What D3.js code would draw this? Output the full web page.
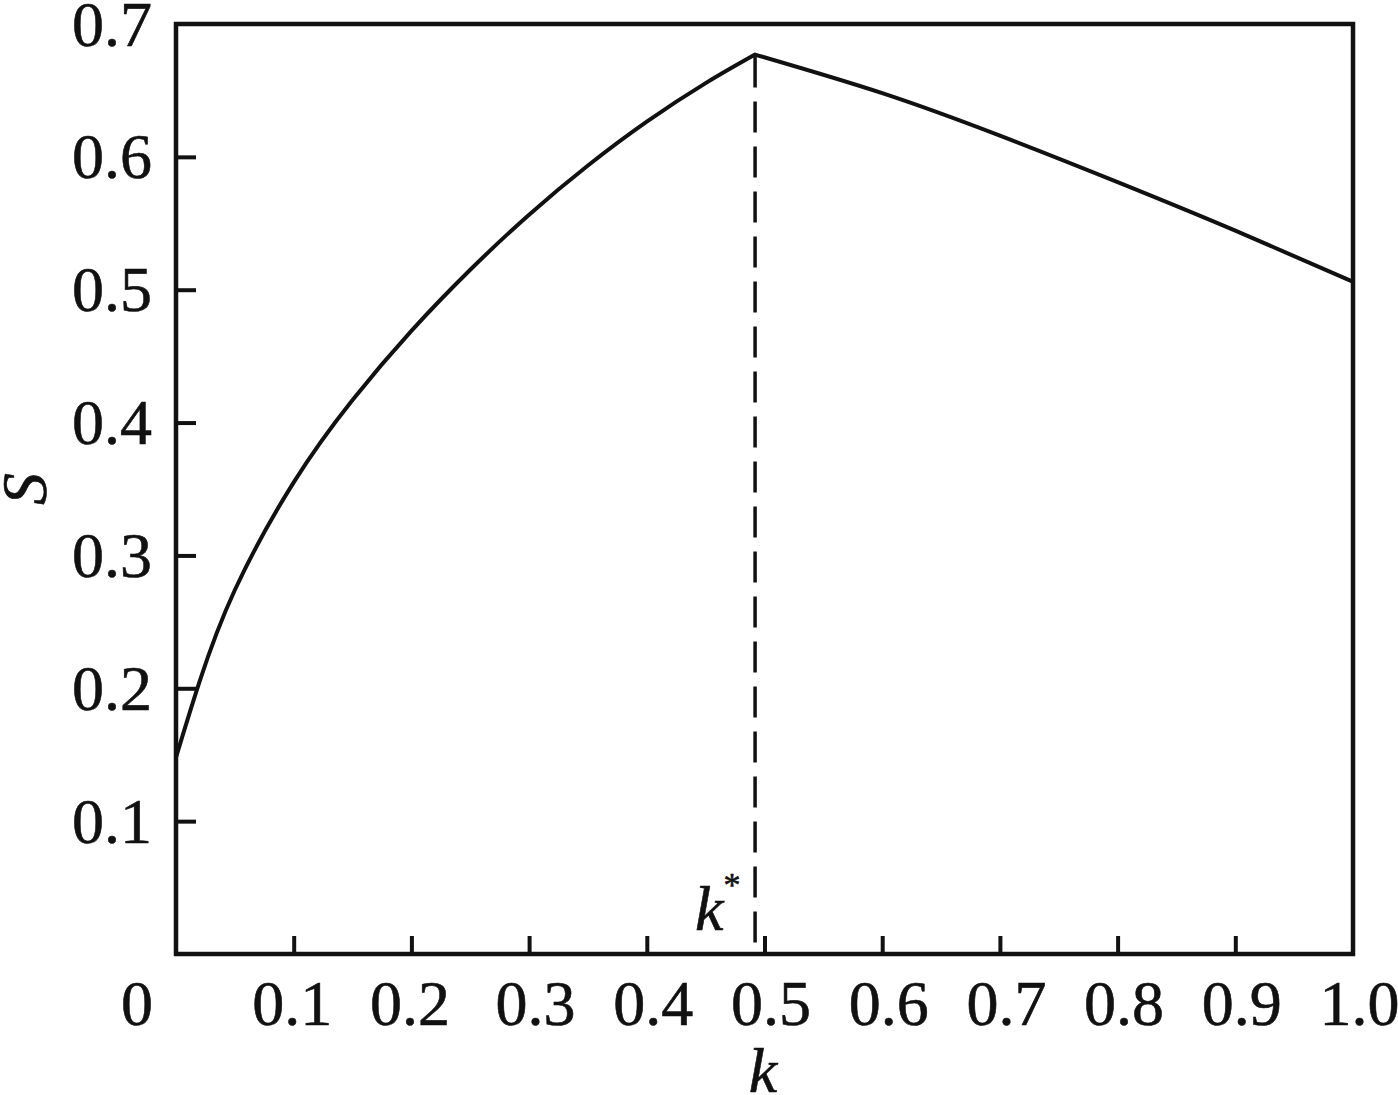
<!DOCTYPE html>
<html>
<head>
<meta charset="utf-8">
<script src="https://cdn.jsdelivr.net/npm/d3@7"></script>
<style>
  html, body { margin: 0; padding: 0; background: #fff; }
  svg { display: block; }
  text { font-family: "Liberation Serif", "Times New Roman", serif; fill: #111; stroke: #111; stroke-width: 0.6px; }
</style>
</head>
<body>
<svg id="chart" width="1398" height="1095"></svg>
<script>
// ---- data ----
const kValues = [0, 0.02, 0.05, 0.10, 0.15, 0.20, 0.25, 0.30, 0.35, 0.40, 0.45, 0.492, 0.60, 0.70, 0.80, 0.90, 1.00];
const sValues = [0.148, 0.205, 0.274, 0.355, 0.417, 0.469, 0.515, 0.5565, 0.5935, 0.6265, 0.6555, 0.677, 0.648, 0.616, 0.581, 0.5445, 0.506];
const kStar = 0.492;
const xTickValues = [0.1, 0.2, 0.3, 0.4, 0.5, 0.6, 0.7, 0.8, 0.9, 1.0];
const xTickLabels = ["0.1", "0.2", "0.3", "0.4", "0.5", "0.6", "0.7", "0.8", "0.9", "1.0"];
const yTickValues = [0.1, 0.2, 0.3, 0.4, 0.5, 0.6, 0.7];
const yTickLabels = ["0.1", "0.2", "0.3", "0.4", "0.5", "0.6", "0.7"];
const originLabel = "0";
const xTitle = "k";
const yTitle = "S";

(function () {
// ---- layout ----
const pLeft = 176, pRight = 1353, pTop = 24, pBottom = 954;
const ink = "#111";
const svg = d3.select("#chart");

const x = d3.scaleLinear().domain([0, 1]).range([pLeft, pRight]);
const y = d3.scaleLinear().domain([0, 0.7]).range([pBottom, pTop]);

// frame
svg.append("rect")
  .attr("x", pLeft).attr("y", pTop)
  .attr("width", pRight - pLeft).attr("height", pBottom - pTop)
  .attr("fill", "none").attr("stroke", ink).attr("stroke-width", 4.5);

// x axis (ticks inward)
const xAxis = d3.axisBottom(x).tickValues(xTickValues)
  .tickFormat((d, i) => xTickLabels[i]).tickSizeInner(-18).tickSizeOuter(0).tickPadding(0);
const gx = svg.append("g").attr("transform", `translate(0,${pBottom})`).call(xAxis);
gx.select(".domain").remove();
gx.selectAll(".tick line").attr("stroke", ink).attr("stroke-width", 4)
  .attr("display", d => (d >= 1 ? "none" : null));
gx.selectAll(".tick text")
  .attr("y", 71).attr("dy", null).attr("x", d => (d < 0.25 ? -2 : 6))
  .style("font-size", "64px").style("font-family", '"Liberation Serif", serif').attr("fill", ink);

// origin label
svg.append("text").attr("x", 137).attr("y", pBottom + 71)
  .attr("text-anchor", "middle").style("font-size", "64px").text(originLabel);

// y axis (ticks inward)
const yAxis = d3.axisLeft(y).tickValues(yTickValues)
  .tickFormat((d, i) => yTickLabels[i]).tickSizeInner(-20).tickSizeOuter(0).tickPadding(0);
const gy = svg.append("g").attr("transform", `translate(${pLeft},0)`).call(yAxis);
gy.select(".domain").remove();
gy.selectAll(".tick line").attr("stroke", ink).attr("stroke-width", 4)
  .attr("display", d => (d >= 0.7 ? "none" : null));
gy.selectAll(".tick text")
  .attr("x", -24).attr("dy", "0.33em")
  .style("font-size", "64px").style("font-family", '"Liberation Serif", serif').attr("fill", ink);

// curve: two smooth pieces joined at the sharp peak
const pts = kValues.map((k, i) => [k, sValues[i]]);
const peakIdx = kValues.indexOf(kStar);
const line = d3.line().x(d => x(d[0])).y(d => y(d[1])).curve(d3.curveNatural);
const leftPart = pts.slice(0, peakIdx + 1);
const rightPart = pts.slice(peakIdx);
const pathD = line(leftPart) + "L" + line(rightPart).slice(1);
svg.append("path").attr("d", pathD)
  .attr("fill", "none").attr("stroke", ink).attr("stroke-width", 4)
  .attr("stroke-linejoin", "round");

// dashed vertical at k*
svg.append("line")
  .attr("x1", x(kStar)).attr("x2", x(kStar))
  .attr("y1", y(sValues[peakIdx]) + 2).attr("y2", pBottom)
  .attr("stroke", ink).attr("stroke-width", 3.5).attr("stroke-dasharray", "31,14");

// k* label
const ks = svg.append("text").attr("x", x(kStar) - 60).attr("y", 930)
  .style("font-size", "64px").style("font-style", "italic");
ks.append("tspan").text("k");
ks.append("tspan").attr("dy", -34).style("font-size", "34px").style("font-style", "normal").text("*");

// axis titles
svg.append("text").attr("x", 763).attr("y", 1092)
  .attr("text-anchor", "middle").style("font-size", "64px").style("font-style", "italic").text(xTitle);
svg.append("text").attr("transform", "translate(46,489) rotate(-90)")
  .attr("text-anchor", "middle").style("font-size", "64px").style("font-style", "italic").text(yTitle);
})();
</script>
</body>
</html>
